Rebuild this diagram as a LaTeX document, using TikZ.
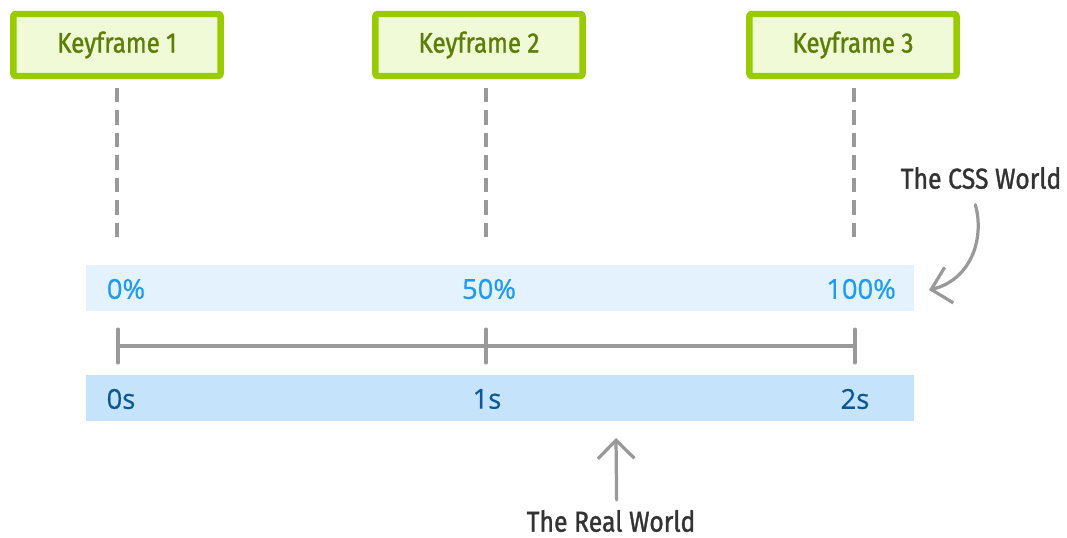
\documentclass[tikz,border=0pt]{standalone}
\usepackage{fontspec}
\setmainfont[FakeBold=0.6]{Open Sans}
\newfontfamily\handfont[FakeStretch=0.86, FakeBold=1.2]{Fira Sans}
\usetikzlibrary{arrows.meta}
\definecolor{kfgreen}{HTML}{99CC00}
\definecolor{kffill}{HTML}{F1FAD6}
\definecolor{kftext}{HTML}{5B7F05}
\definecolor{cssband}{HTML}{E3F2FD}
\definecolor{csstext}{HTML}{1E9BF2}
\definecolor{realband}{HTML}{C5E3FB}
\definecolor{realtext}{HTML}{0C5896}
\definecolor{axisgray}{HTML}{999999}
\definecolor{labelgray}{HTML}{333333}

\begin{document}
\begin{tikzpicture}[x=0.025cm, y=-0.025cm, % one unit is one pixel of the reference
                    line join=round, line cap=round,
                    keyframe/.style = {draw=kfgreen, fill=kffill, line width=4.5pt,
                                       rounded corners=1.5pt, minimum width=5.18cm,
                                       minimum height=1.55cm, inner sep=0pt,
                                       text=kftext, font=\handfont\fontsize{20}{24}\selectfont},
                    band/.style = {minimum width=20.7cm, minimum height=1.125cm, inner sep=0pt},
                    css/.style = {text=csstext, font=\fontsize{19.5}{22}\selectfont},
                    real/.style = {text=realtext, font=\fontsize{19.5}{22}\selectfont},
                    guide/.style = {axisgray, line width=2.3pt, dash pattern=on 10pt off 6pt, line cap=butt},
                    axis/.style = {axisgray, line width=2.3pt},
                    note/.style = {text=labelgray, inner sep=1pt, font=\handfont\fontsize{20.5}{24}\selectfont},
                    pointer/.style = {axisgray, line width=2.3pt,
                                      -{Straight Barb[length=13pt, width=26pt, line width=2.3pt]}}
                   ]
  \useasboundingbox (0,0) rectangle (1067,538);
  % keyframes
  \node[keyframe] (kf1) at (117,45) {Keyframe 1};
  \node[keyframe] (kf2) at (479,45) {Keyframe 2};
  \node[keyframe] (kf3) at (853,45) {Keyframe 3};
  % the two bands
  \node[band, fill=cssband] (cssband) at (500,288) {};
  \node[band, fill=realband] (realband) at (500,398) {};
  \node[css] (p0) at (126,289) {0\%};
  \node[css] (p50) at (489,289) {50\%};
  \node[css] (p100) at (861,289) {100\%};
  \node[real] (s0) at (121,399) {0s};
  \node[real] (s1) at (487,399) {1s};
  \node[real] (s2) at (855,399) {2s};
  % guides down from the keyframes
  \coordinate (g1) at (117,243);
  \coordinate (g2) at (486,243);
  \coordinate (g3) at (854,243);
  \draw[guide] (117,88) -- (g1);
  \draw[guide] (486,88) -- (g2);
  \draw[guide] (854,88) -- (g3);
  % time axis
  \coordinate (t0) at (118,346);
  \coordinate (t1) at (486,346);
  \coordinate (t2) at (855,346);
  \draw[axis] (t0) -- (t2);
  \foreach \t in {t0,t1,t2}
    \draw[axis] ([yshift=12pt]\t) -- ([yshift=-12pt]\t);
  % labels
  \node[note] (cssworld) at (981,178) {The CSS World};
  \node[note] (realworld) at (611,521) {The Real World};
  \coordinate (cssend) at (929,290);
  \coordinate (realend) at (616,438);
  \draw[pointer] ([xshift=-4pt,yshift=-10pt]cssworld.south) .. controls (985,240) and (970,280) .. (cssend);
  \draw[pointer] ([xshift=4pt,yshift=6pt]realworld.north) -- (realend);
\end{tikzpicture}
\end{document}
